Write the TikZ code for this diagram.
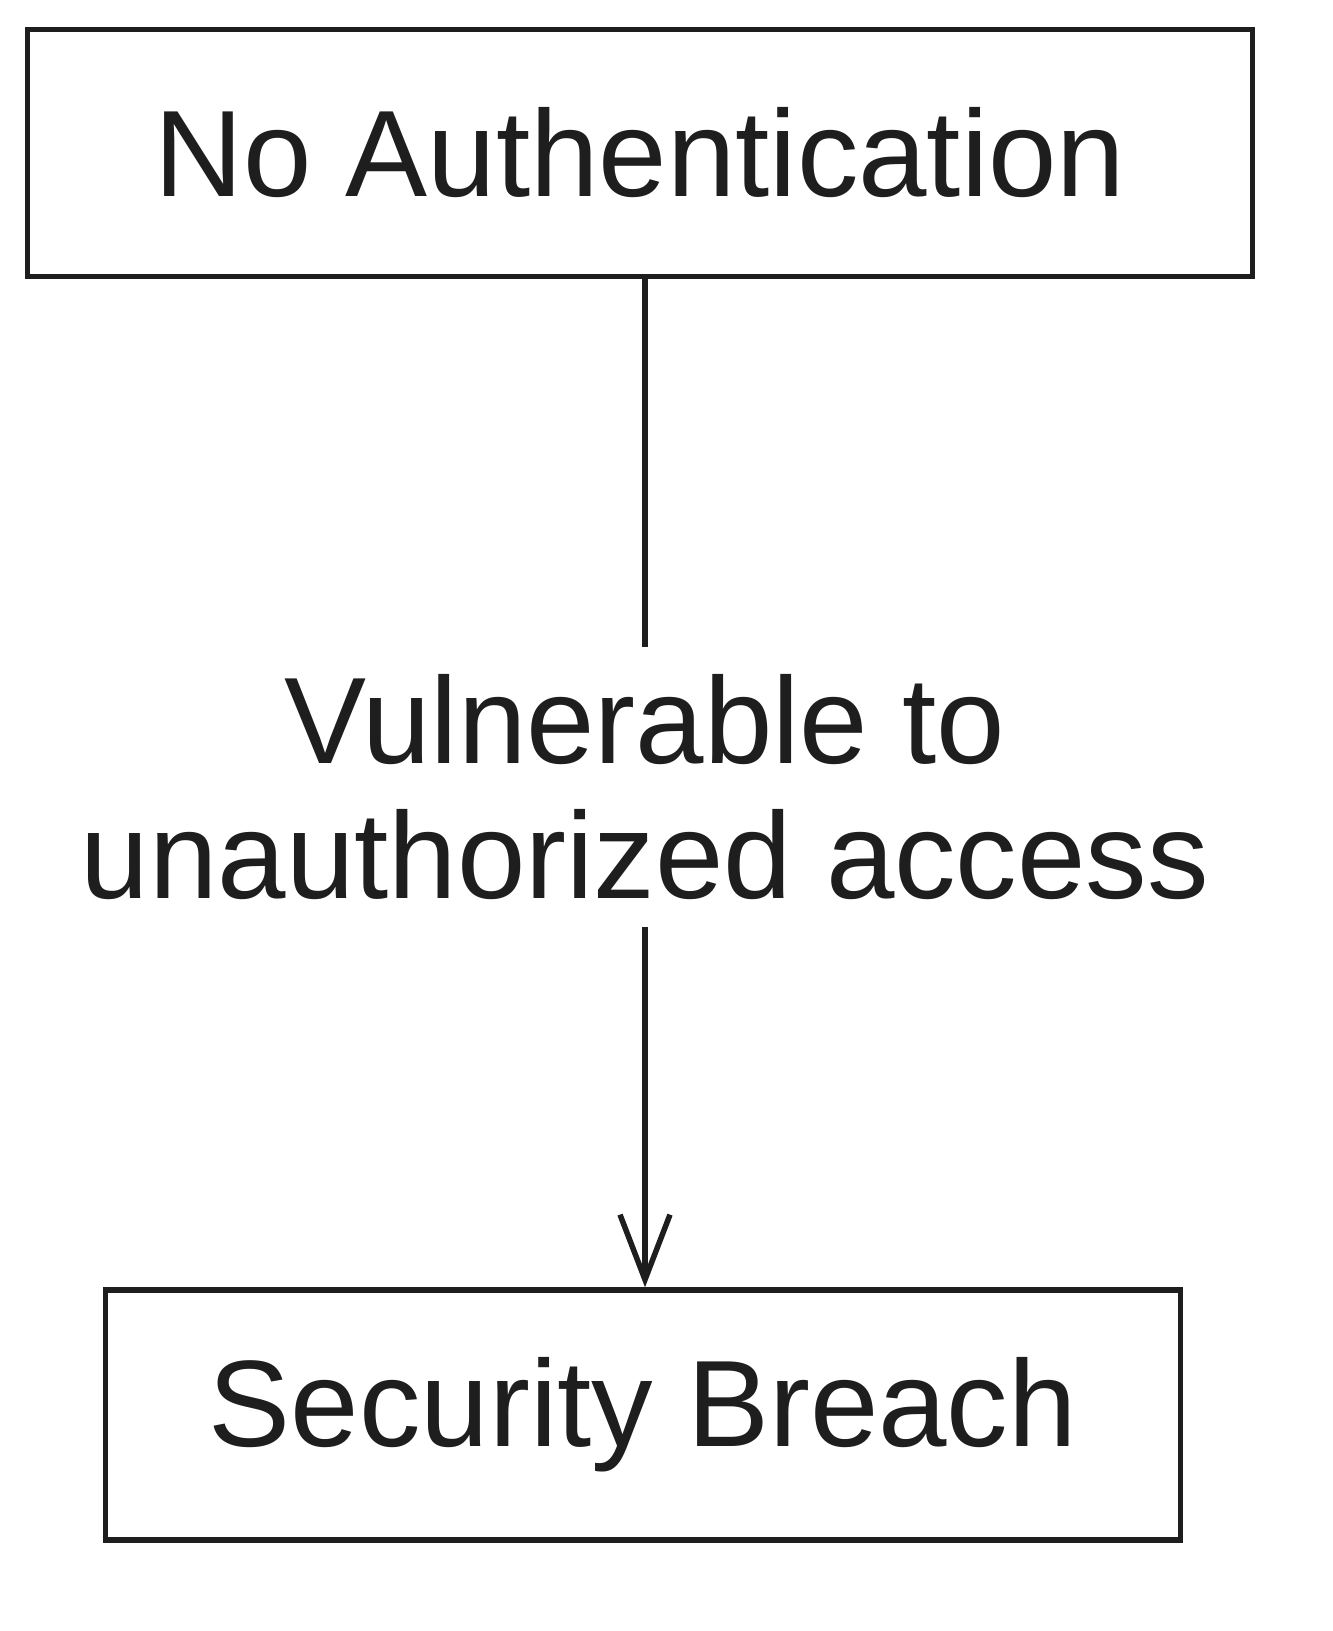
\documentclass[tikz,border=0pt]{standalone}
\usepackage{fontspec}
\setmainfont{Liberation Sans}
\usetikzlibrary{arrows.meta}
\definecolor{ink}{HTML}{1E1E1E}

\begin{document}
\begin{tikzpicture}[x=0.02cm, y=-0.02cm,
  box/.style={draw=ink, line width=0.11cm, inner sep=0cm, text=ink,
              font=\fontsize{70}{77}\selectfont},
  link/.style={draw=ink, line width=0.11cm}]

\useasboundingbox (0,0) rectangle (1332,1631);

\node[box, minimum width=24.5cm, minimum height=4.94cm] (noauth) at (640,153) {No Authentication};
\node[box, minimum width=21.5cm, minimum height=5.0cm] (breach) at (643,1415) {Security Breach};
\node[text=ink, align=center, inner sep=0cm, minimum height=5.6cm,
      font=\fontsize{70}{77}\selectfont] (vuln) at (645,787) {Vulnerable to\\unauthorized access};

\draw[link] (noauth.south -| vuln.north) -- (vuln.north);
\draw[link, -{Straight Barb[length=1.3cm, width=1.0cm, line width=0.11cm]}]
  (vuln.south) -- (breach.north -| vuln.south);
\end{tikzpicture}
\end{document}
